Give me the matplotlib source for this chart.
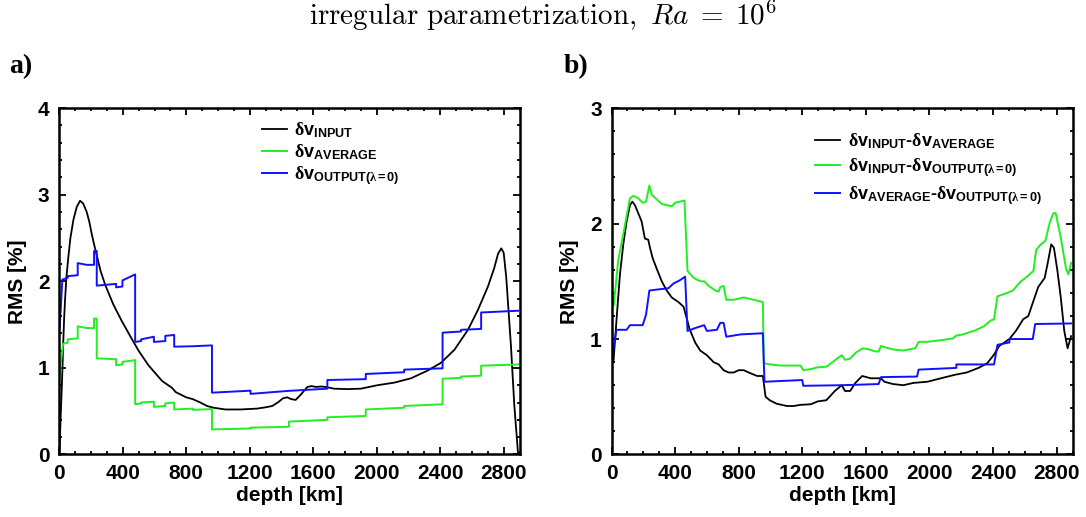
import matplotlib
matplotlib.use("Agg")
import matplotlib.pyplot as plt
from matplotlib.ticker import MultipleLocator
from matplotlib.font_manager import FontProperties

# ---- panel a) : RMS of the models ----
a_input_depth = [0, 5, 10, 15, 20, 25, 30, 36, 45, 57, 70, 89, 110, 131, 150, 173, 190, 204, 220,
                 236, 260, 289, 341, 394, 446, 499, 562, 647, 710, 734, 800, 840, 889, 931, 973,
                 1046, 1141, 1247, 1300, 1342, 1384, 1410, 1437, 1460, 1489, 1521, 1563, 1590,
                 1616, 1650, 1679, 1731, 1816, 1900, 2005, 2111, 2216, 2322, 2406, 2490, 2575,
                 2638, 2701, 2740, 2765, 2785, 2800, 2816, 2846, 2867, 2891]
a_input_rms = [0.0, 0.25, 0.5, 0.74, 1.0, 1.3, 1.55, 1.78, 2.05, 2.28, 2.50, 2.71, 2.86, 2.93,
               2.90, 2.80, 2.68, 2.55, 2.42, 2.30, 2.12, 1.96, 1.73, 1.54, 1.37, 1.20, 1.03,
               0.85, 0.77, 0.72, 0.66, 0.64, 0.60, 0.56, 0.54, 0.52, 0.52, 0.53, 0.545, 0.56,
               0.61, 0.65, 0.66, 0.64, 0.63, 0.69, 0.78, 0.79, 0.78, 0.785, 0.78, 0.76, 0.755,
               0.76, 0.80, 0.83, 0.88, 0.97, 1.06, 1.21, 1.44, 1.67, 1.94, 2.15, 2.32, 2.38,
               2.33, 2.05, 1.25, 0.57, 0.0]

a_average_depth = [2, 9, 24, 53, 53, 116, 116, 173, 219, 219, 236, 236, 358, 358, 398, 398, 478,
                   478, 516, 516, 596, 596, 668, 668, 724, 724, 842, 842, 962, 962, 1205, 1205,
                   1447, 1447, 1689, 1689, 1931, 1931, 2173, 2173, 2415, 2415, 2531, 2531, 2658,
                   2658, 2891]
a_average_rms = [0.90, 1.05, 1.28, 1.29, 1.33, 1.34, 1.48, 1.46, 1.46, 1.57, 1.57, 1.11, 1.10,
                 1.03, 1.04, 1.07, 1.09, 0.58, 0.59, 0.60, 0.61, 0.55, 0.56, 0.59, 0.60, 0.52,
                 0.53, 0.515, 0.525, 0.29, 0.30, 0.31, 0.32, 0.38, 0.40, 0.43, 0.445, 0.52,
                 0.54, 0.56, 0.58, 0.875, 0.885, 0.90, 0.91, 1.025, 1.04]

a_output_depth = [2, 10, 19, 53, 53, 116, 116, 173, 219, 219, 236, 236, 358, 358, 398, 398, 478,
                  478, 516, 516, 596, 596, 668, 668, 724, 724, 842, 962, 962, 1205, 1205, 1447,
                  1689, 1689, 1931, 1931, 2173, 2173, 2415, 2415, 2531, 2531, 2658, 2658, 2891]
a_output_rms = [1.46, 1.71, 2.02, 2.04, 2.06, 2.07, 2.21, 2.19, 2.19, 2.35, 2.35, 1.95, 1.97,
                1.93, 1.94, 2.01, 2.08, 1.30, 1.31, 1.33, 1.36, 1.30, 1.31, 1.37, 1.38, 1.245,
                1.25, 1.26, 0.714, 0.737, 0.70, 0.735, 0.76, 0.86, 0.87, 0.93, 0.95, 0.98,
                0.995, 1.407, 1.42, 1.44, 1.45, 1.64, 1.66]

# ---- panel b) : RMS of the differences ----
b_in_avg_depth = [0, 12, 31, 53, 74, 95, 116, 131, 147, 168, 189, 210, 231, 242, 259, 284, 316,
                  347, 379, 421, 453, 469, 490, 526, 558, 600, 642, 674, 705, 737, 768, 800, 832,
                  863, 916, 952, 969, 995, 1038, 1103, 1146, 1189, 1254, 1297, 1351, 1405, 1448,
                  1469, 1501, 1534, 1577, 1631, 1695, 1717, 1771, 1835, 1900, 1986, 2072, 2159,
                  2234, 2309, 2363, 2406, 2439, 2503, 2546, 2589, 2622, 2654, 2684, 2725, 2747,
                  2766, 2783, 2805, 2826, 2848, 2869, 2891]
b_in_avg_rms = [0.79, 0.80, 1.16, 1.56, 1.82, 2.02, 2.16, 2.19, 2.16, 2.09, 2.02, 1.87, 1.86,
                1.79, 1.70, 1.61, 1.50, 1.42, 1.36, 1.32, 1.28, 1.20, 1.09, 0.97, 0.90, 0.86,
                0.80, 0.78, 0.73, 0.71, 0.71, 0.73, 0.73, 0.71, 0.68, 0.68, 0.50, 0.47, 0.44,
                0.42, 0.42, 0.43, 0.435, 0.46, 0.47, 0.55, 0.60, 0.55, 0.55, 0.62, 0.68, 0.66,
                0.66, 0.63, 0.61, 0.60, 0.62, 0.63, 0.66, 0.69, 0.71, 0.75, 0.79, 0.865, 0.94,
                1.00, 1.075, 1.17, 1.20, 1.33, 1.45, 1.53, 1.68, 1.82, 1.79, 1.59, 1.36, 1.07,
                0.92, 1.025]

b_in_out_depth = [0, 14, 42, 74, 116, 137, 168, 196, 217, 238, 253, 284, 316, 347, 379, 400,
                  431, 459, 478, 516, 558, 583, 611, 653, 674, 684, 705, 722, 768, 832, 895, 952,
                  958, 1000, 1063, 1189, 1206, 1254, 1297, 1351, 1448, 1469, 1501, 1534, 1581,
                  1620, 1652, 1680, 1695, 1717, 1771, 1835, 1911, 1932, 1986, 2072, 2148, 2169,
                  2212, 2288, 2342, 2385, 2406, 2428, 2471, 2525, 2568, 2622, 2654, 2671, 2697,
                  2729, 2757, 2779, 2794, 2826, 2859, 2874, 2891]
b_in_out_rms = [1.42, 1.29, 1.68, 1.91, 2.22, 2.24, 2.22, 2.18, 2.19, 2.33, 2.25, 2.21, 2.17,
                2.16, 2.15, 2.18, 2.19, 2.20, 1.59, 1.53, 1.50, 1.50, 1.46, 1.42, 1.41, 1.45,
                1.46, 1.34, 1.34, 1.36, 1.34, 1.32, 0.79, 0.78, 0.77, 0.77, 0.73, 0.74, 0.755,
                0.76, 0.86, 0.82, 0.83, 0.88, 0.92, 0.91, 0.895, 0.89, 0.94, 0.93, 0.91, 0.90,
                0.92, 0.976, 0.976, 0.99, 1.005, 1.03, 1.04, 1.075, 1.11, 1.16, 1.17, 1.37,
                1.39, 1.42, 1.49, 1.55, 1.59, 1.77, 1.815, 1.85, 2.01, 2.09, 2.09, 1.88, 1.61,
                1.56, 1.66]

b_avg_out_depth = [0, 31, 95, 116, 196, 217, 238, 295, 358, 389, 431, 463, 478, 537, 583, 600,
                   663, 684, 705, 722, 811, 952, 962, 1200, 1206, 1448, 1680, 1695, 1922, 1932,
                   2169, 2169, 2406, 2428, 2503, 2503, 2650, 2665, 2891]
b_avg_out_rms = [0.81, 1.08, 1.08, 1.12, 1.12, 1.21, 1.42, 1.43, 1.44, 1.48, 1.51, 1.54, 1.07,
                 1.10, 1.12, 1.07, 1.08, 1.14, 1.14, 1.02, 1.04, 1.05, 0.63, 0.645, 0.595, 0.60,
                 0.61, 0.67, 0.675, 0.735, 0.75, 0.78, 0.78, 0.95, 0.97, 1.0, 1.0, 1.13, 1.135]

a_labels = [r'$\mathrm{\delta}\mathbf{v}_{\mathbf{INPUT}}$',
            r'$\mathrm{\delta}\mathbf{v}_{\mathbf{AVERAGE}}$',
            r'$\mathrm{\delta}\mathbf{v}_{\mathbf{OUTPUT(}\mathrm{\lambda}\mathbf{=0)}}$']
b_labels = [r'$\mathrm{\delta}\mathbf{v}_{\mathbf{INPUT}}$-$\mathrm{\delta}\mathbf{v}_{\mathbf{AVERAGE}}$',
            r'$\mathrm{\delta}\mathbf{v}_{\mathbf{INPUT}}$-$\mathrm{\delta}\mathbf{v}_{\mathbf{OUTPUT(}\mathrm{\lambda}\mathbf{=0)}}$',
            r'$\mathrm{\delta}\mathbf{v}_{\mathbf{AVERAGE}}$-$\mathrm{\delta}\mathbf{v}_{\mathbf{OUTPUT(}\mathrm{\lambda}\mathbf{=0)}}$']

colors = ['black', '#22ee22', '#1010ff']

plt.rcParams['font.family'] = ['Liberation Sans', 'DejaVu Sans']
plt.rcParams['font.weight'] = 'bold'
plt.rcParams['mathtext.fontset'] = 'custom'
plt.rcParams['mathtext.rm'] = 'Liberation Serif'
plt.rcParams['mathtext.it'] = 'Liberation Serif:italic'
plt.rcParams['mathtext.bf'] = 'Liberation Sans:bold'
plt.rcParams['mathtext.sf'] = 'Liberation Sans'

fig = plt.figure(figsize=(10.86, 5.17), dpi=100)
ax_a = fig.add_axes([0.0546, 0.1209, 0.4238, 0.670])
ax_b = fig.add_axes([0.5631, 0.1209, 0.4245, 0.670])


def style_axes(ax, ymax):
    ax.set_xlim(0, 2900)
    ax.set_ylim(0, ymax)
    ax.xaxis.set_major_locator(MultipleLocator(400))
    ax.xaxis.set_minor_locator(MultipleLocator(100))
    ax.yaxis.set_major_locator(MultipleLocator(1))
    ax.yaxis.set_minor_locator(MultipleLocator(0.2))
    ax.tick_params(which='both', direction='in', top=True, right=True, width=1.3)
    ax.tick_params(which='major', length=5, labelsize=15, pad=7)
    ax.tick_params(which='minor', length=2.5)
    for s in ax.spines.values():
        s.set_linewidth(1.8)
    for lab in ax.get_xticklabels() + ax.get_yticklabels():
        lab.set_fontweight('bold')
    ax.set_xlabel('depth [km]', fontsize=15, fontweight='bold', labelpad=2)
    ax.set_ylabel('RMS [%]', fontsize=15, fontweight='bold', labelpad=8)


ax_a.plot(a_input_depth, a_input_rms, color=colors[0], lw=1.3, label=a_labels[0])
ax_a.plot(a_average_depth, a_average_rms, color=colors[1], lw=1.4, label=a_labels[1])
ax_a.plot(a_output_depth, a_output_rms, color=colors[2], lw=1.4, label=a_labels[2])
style_axes(ax_a, 4)
ax_a.legend(loc='upper left', bbox_to_anchor=(0.425, 0.985), frameon=False, fontsize=13,
            handlelength=1.4, handletextpad=0.35, labelspacing=0.12, borderaxespad=0)

ax_b.plot(b_in_avg_depth, b_in_avg_rms, color=colors[0], lw=1.3, label=b_labels[0])
ax_b.plot(b_in_out_depth, b_in_out_rms, color=colors[1], lw=1.4, label=b_labels[1])
ax_b.plot(b_avg_out_depth, b_avg_out_rms, color=colors[2], lw=1.4, label=b_labels[2])
style_axes(ax_b, 3)
ax_b.legend(loc='upper left', bbox_to_anchor=(0.425, 0.955), frameon=False, fontsize=13,
            handlelength=1.4, handletextpad=0.45, labelspacing=0.3, borderaxespad=0)

fig.text(0.5, 0.97, r'$\mathrm{irregular\ parametrization,}\ Ra\;=\;10^6$', ha='center', va='center',
         fontproperties=FontProperties(size=21, math_fontfamily='cm'))
fig.text(0.008, 0.872, 'a)', fontsize=20, fontweight='bold', family='Liberation Serif', va='center')
fig.text(0.519, 0.872, 'b)', fontsize=20, fontweight='bold', family='Liberation Serif', va='center')

fig.savefig('out.png', dpi=100)
